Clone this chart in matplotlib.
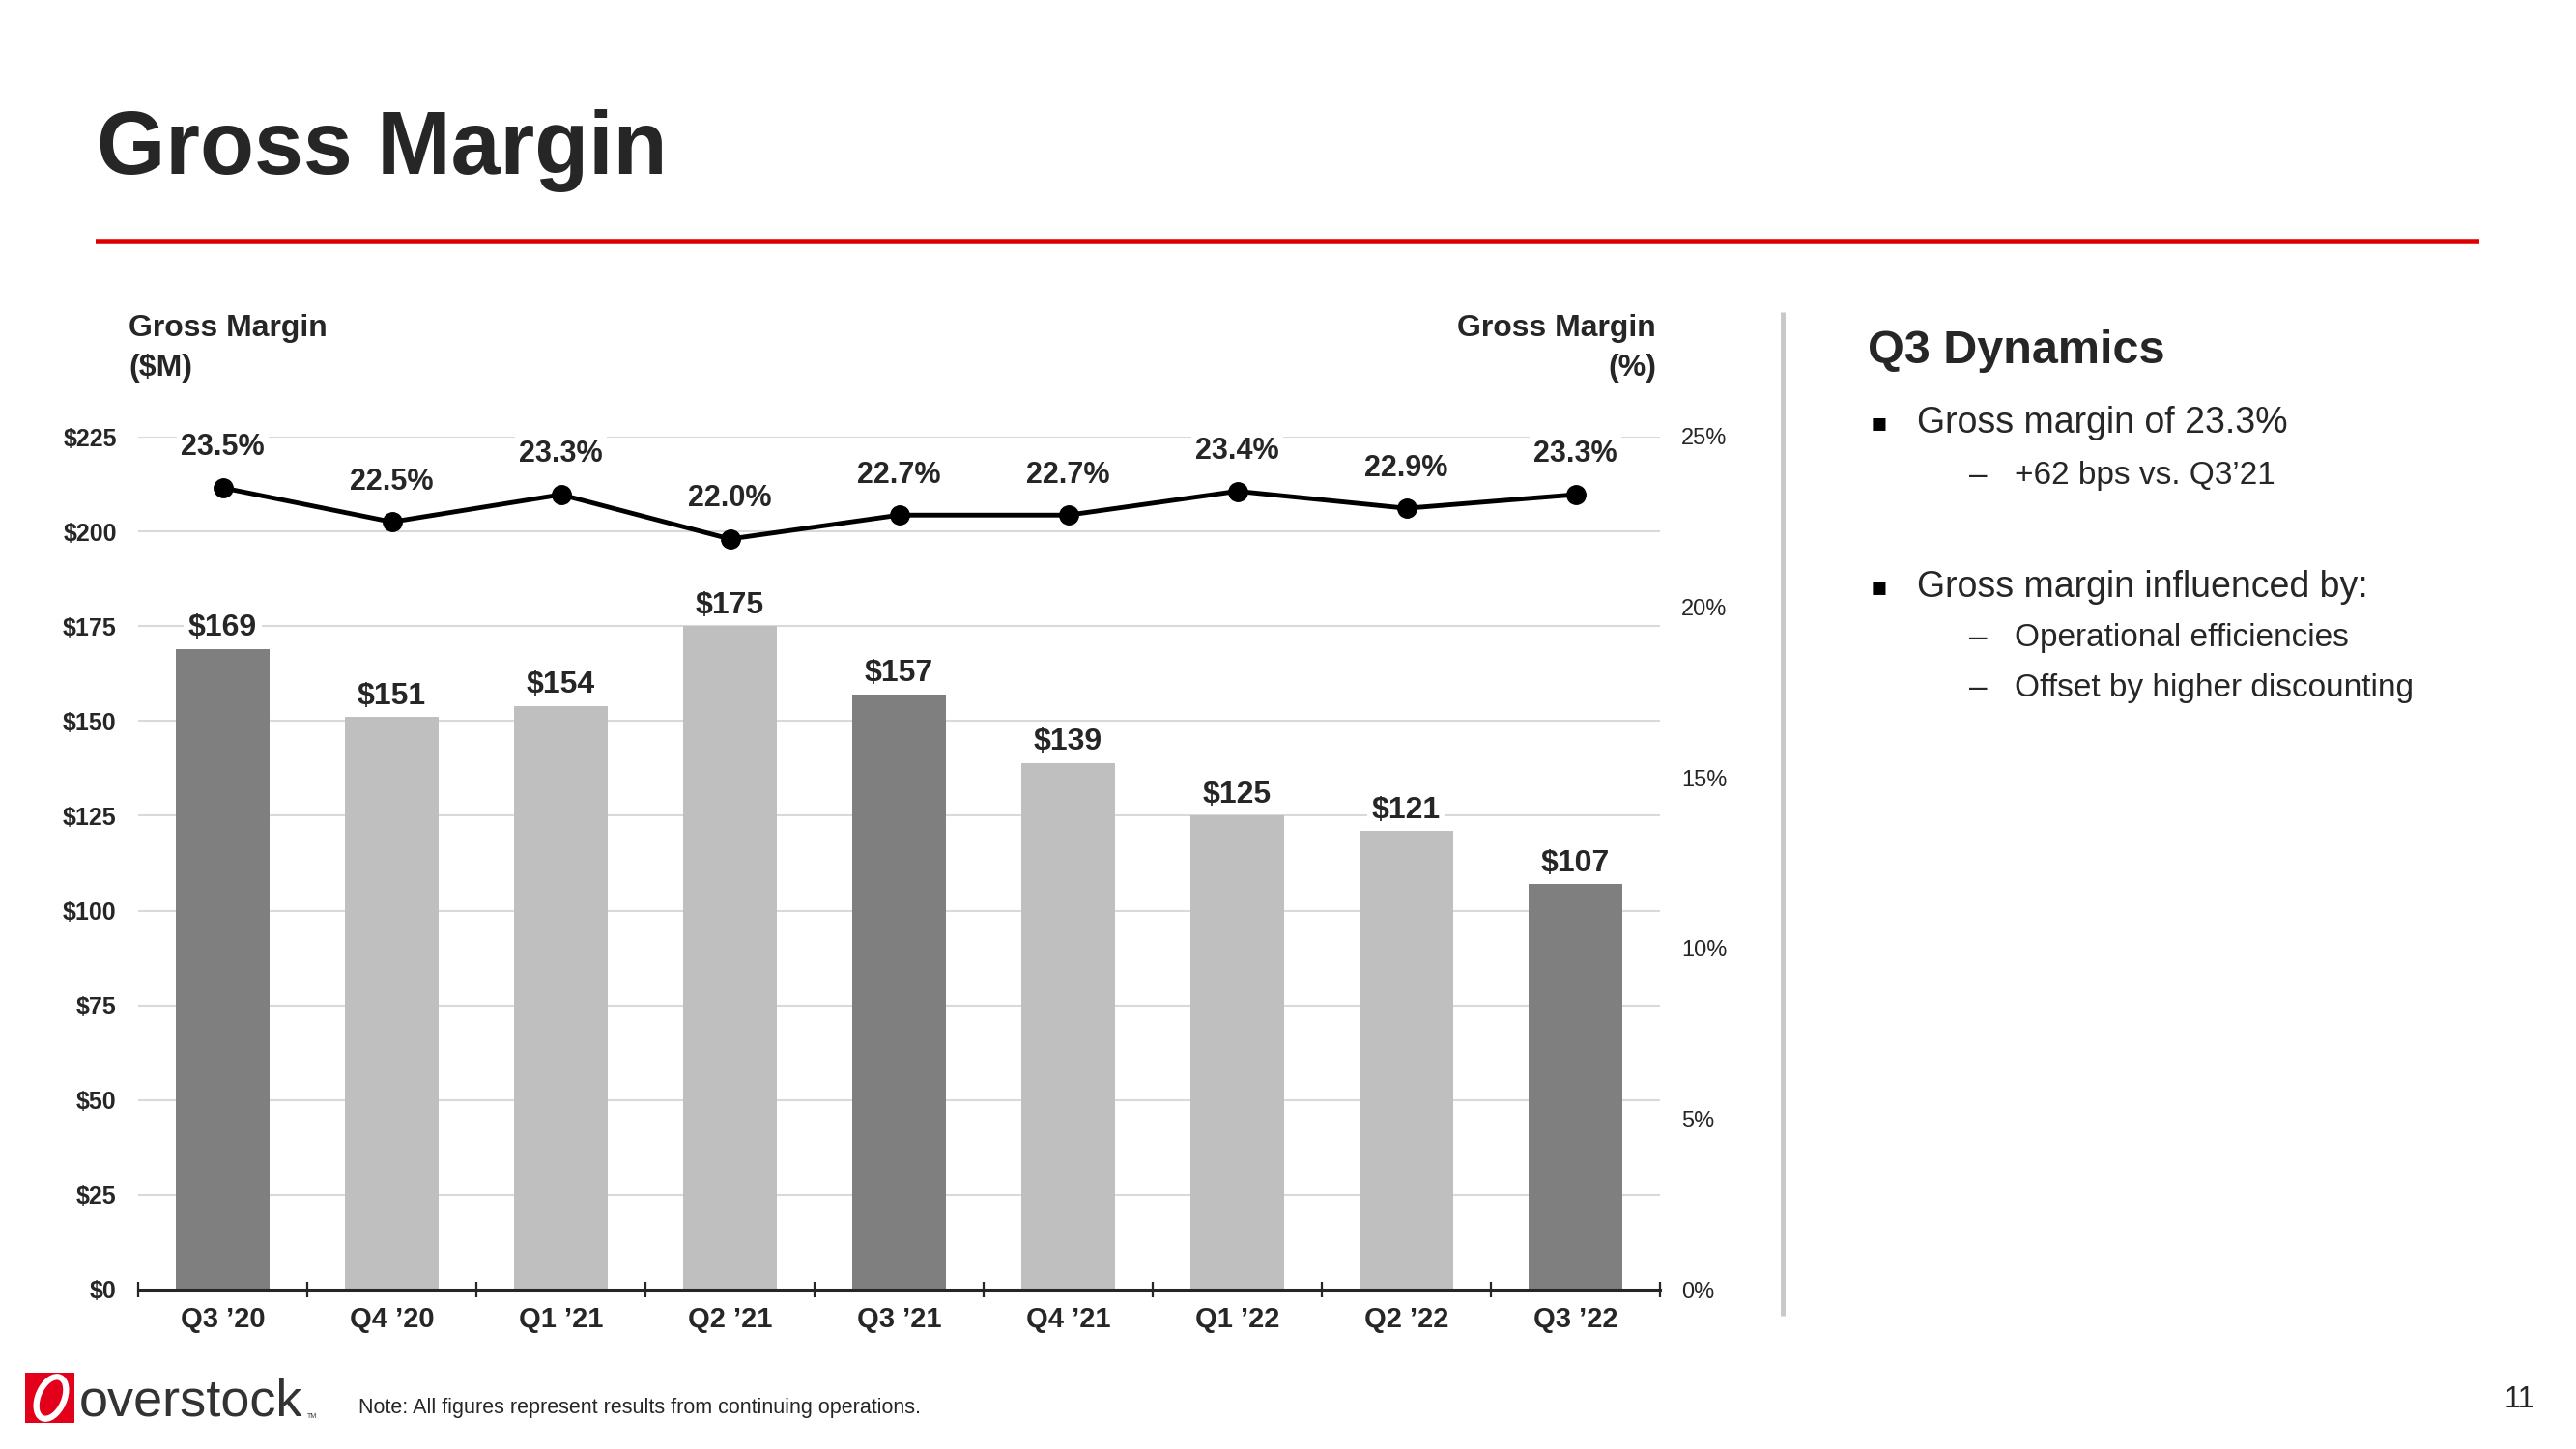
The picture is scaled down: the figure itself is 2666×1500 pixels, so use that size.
import matplotlib
matplotlib.use("Agg")
import matplotlib.pyplot as plt
from matplotlib.patches import Rectangle, Ellipse
from matplotlib.lines import Line2D
from matplotlib.ticker import FixedLocator, FuncFormatter

# ---- data ----
quarters = ["Q3 \u201920", "Q4 \u201920", "Q1 \u201921", "Q2 \u201921", "Q3 \u201921",
            "Q4 \u201921", "Q1 \u201922", "Q2 \u201922", "Q3 \u201922"]
gm_dollars = [169, 151, 154, 175, 157, 139, 125, 121, 107]
gm_pct = [23.5, 22.5, 23.3, 22.0, 22.7, 22.7, 23.4, 22.9, 23.3]
left_ticks = [0, 25, 50, 75, 100, 125, 150, 175, 200, 225]
right_ticks = [0, 5, 10, 15, 20, 25]

W, H = 2666, 1500
FONT = "Liberation Sans"
DARK = "#262626"

fig = plt.figure(figsize=(W / 100, H / 100), dpi=100)
fig.patch.set_facecolor("white")


def fx(x):
    return x / W


def fy(y):
    return 1 - y / H


# ---- title ----
fig.text(fx(100), fy(180), "Gross Margin", fontsize=66, fontweight="bold",
         family=FONT, color=DARK, ha="left", va="baseline")
fig.add_artist(Line2D([fx(99), fx(2566)], [fy(250), fy(250)], color="#E00000",
                      lw=4, solid_capstyle="butt"))

# ---- chart ----
ax = fig.add_axes([fx(143), fy(1335), fx(1718) - fx(143), fy(452) - fy(1335)])
x = list(range(len(quarters)))
colors = ["#7F7F7F" if q.startswith("Q3") else "#BFBFBF" for q in quarters]
bars = ax.bar(x, gm_dollars, width=0.55, color=colors, zorder=2)
ax.set_xlim(-0.5, len(quarters) - 0.5)
ax.set_ylim(0, 225)
ax.yaxis.set_major_locator(FixedLocator(left_ticks))
ax.yaxis.set_major_formatter(FuncFormatter(lambda v, p: f"${v:.0f}"))
for v in left_ticks[1:]:
    ax.axhline(v, color="#D9D9D9", lw=1.5, zorder=0)
for s in ["top", "left", "right"]:
    ax.spines[s].set_visible(False)
ax.spines["bottom"].set_color("#262626")
ax.spines["bottom"].set_linewidth(2.2)
ax.set_xticks(x)
ax.set_xticklabels(quarters)
ax.set_xticks([i - 0.5 for i in range(len(quarters) + 1)], minor=True)
ax.tick_params(axis="x", which="major", length=0, pad=12, labelsize=21,
               labelcolor=DARK)
ax.tick_params(axis="x", which="minor", length=12, width=1.6, direction="inout",
               color="#262626")
ax.tick_params(axis="y", which="both", length=0, pad=16, labelsize=18,
               labelcolor=DARK)
for lab in ax.get_xticklabels() + ax.get_yticklabels():
    lab.set_fontweight("bold")
    lab.set_family(FONT)

for xi, v in zip(x, gm_dollars):
    ax.annotate(f"${v}", (xi, v), xytext=(0, 15.5), textcoords="offset points",
                ha="center", va="center", fontsize=23, fontweight="bold",
                family=FONT, color=DARK, zorder=3,
                bbox=dict(boxstyle="square,pad=0.15", fc="white", ec="none"))

ax2 = ax.twinx()
ax2.set_ylim(0, 25)
ax2.yaxis.set_major_locator(FixedLocator(right_ticks))
ax2.yaxis.set_major_formatter(FuncFormatter(lambda v, p: f"{v:.0f}%"))
for s in ["top", "left", "right", "bottom"]:
    ax2.spines[s].set_visible(False)
ax2.tick_params(axis="y", length=0, pad=16, labelsize=17, labelcolor=DARK)
for lab in ax2.get_yticklabels():
    lab.set_family(FONT)
ax2.plot(x, gm_pct, color="black", lw=3.5, marker="o", markersize=14,
         zorder=4, clip_on=False)
for xi, v in zip(x, gm_pct):
    ax2.annotate(f"{v:.1f}%", (xi, v), xytext=(0, 30), textcoords="offset points",
                 ha="center", va="center", fontsize=22, fontweight="bold",
                 family=FONT, color=DARK, zorder=5,
                 bbox=dict(boxstyle="square,pad=0.15", fc="white", ec="none"))

# axis titles
fig.text(fx(133), fy(340), "Gross Margin", fontsize=23, fontweight="bold",
         family=FONT, color=DARK, ha="left", va="center")
fig.text(fx(133), fy(381), "($M)", fontsize=23, fontweight="bold",
         family=FONT, color=DARK, ha="left", va="center")
fig.text(fx(1714), fy(340), "Gross Margin", fontsize=23, fontweight="bold",
         family=FONT, color=DARK, ha="right", va="center")
fig.text(fx(1714), fy(381), "(%)", fontsize=23, fontweight="bold",
         family=FONT, color=DARK, ha="right", va="center")

# separator
fig.add_artist(Line2D([fx(1845), fx(1845)], [fy(323), fy(1362)], color="#C8C8C8",
                      lw=3.5, solid_capstyle="butt"))

# ---- right panel ----
fig.text(fx(1933), fy(364), "Q3 Dynamics", fontsize=35, fontweight="bold",
         family=FONT, color=DARK, ha="left", va="center")
bullets = [
    (438, 0, "Gross margin of 23.3%"),
    (492, 1, "+62 bps vs. Q3\u201921"),
    (608, 0, "Gross margin influenced by:"),
    (661, 1, "Operational efficiencies"),
    (712, 1, "Offset by higher discounting"),
]
for yy, lvl, txt in bullets:
    if lvl == 0:
        fig.text(fx(1936), fy(yy), "\u25aa", fontsize=19, family="DejaVu Sans",
                 color="black", ha="left", va="center")
        fig.text(fx(1984), fy(yy), txt, fontsize=27, family=FONT, color=DARK,
                 ha="left", va="center")
    else:
        fig.text(fx(2038), fy(yy), "\u2013", fontsize=24, family=FONT, color=DARK,
                 ha="left", va="center")
        fig.text(fx(2085), fy(yy), txt, fontsize=24, family=FONT, color=DARK,
                 ha="left", va="center")

# ---- footer ----
fig.add_artist(Rectangle((fx(26), fy(1473)), fx(77) - fx(26), fy(1421) - fy(1473),
                         facecolor="#E2001A", edgecolor="none"))
fig.add_artist(Ellipse((fx(53), fy(1447)), fx(28) - fx(0), fy(0) - fy(44),
                       angle=-10, facecolor="none", edgecolor="white", lw=4.5))
fig.text(fx(82), fy(1466), "overstock", fontsize=39, family=FONT, color="#333333",
         ha="left", va="baseline")
fig.text(fx(318), fy(1468), "TM", fontsize=5, family=FONT, color="#333333",
         ha="left", va="baseline")
fig.text(fx(371), fy(1458), "Note: All figures represent results from continuing operations.",
         fontsize=15.5, family=FONT, color=DARK, ha="left", va="center")
fig.text(fx(2592), fy(1449), "11", fontsize=22, family=FONT, color=DARK,
         ha="left", va="center")

fig.savefig("out.png", dpi=100, facecolor="white")
